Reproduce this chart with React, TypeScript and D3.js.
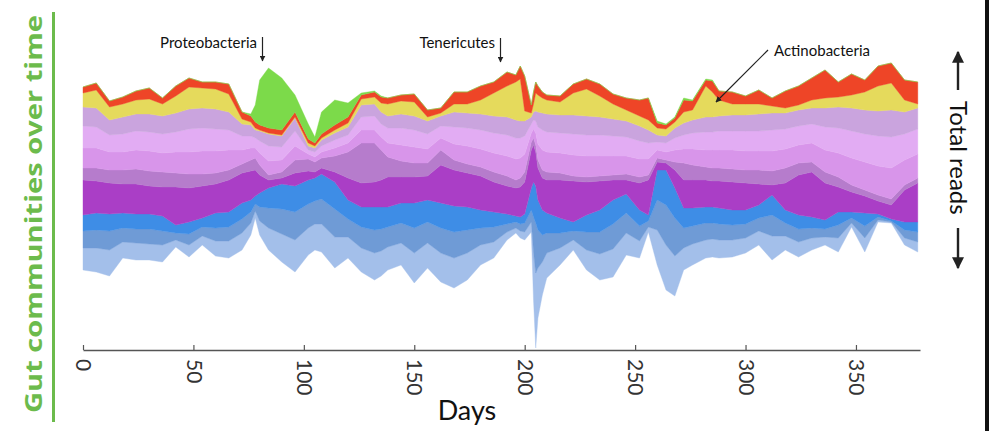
import React, { useEffect, useRef } from "react";
import * as d3 from "d3";

// sample days (extra points around the spikes)
const days = [0, 6, 12, 18, 24, 30, 36, 42, 48, 54, 60, 66, 72, 76, 78, 80, 84, 90, 96, 102, 105, 108, 114, 120, 126, 132, 135, 138, 144, 150, 156, 162, 168, 174, 180, 186, 192, 196, 198, 200, 203, 204, 205, 206, 208, 210, 216, 222, 228, 234, 240, 246, 252, 256, 260, 264, 268, 272, 276, 282, 285, 288, 294, 300, 306, 312, 318, 324, 330, 336, 342, 348, 354, 360, 366, 372, 378];

// lower edge of the stream (reads)
const baseline = [80, 78, 74, 92, 90, 90, 88, 103, 93, 105, 94, 92, 100, 115, 132, 115, 100, 88, 78, 95, 100, 98, 82, 92, 78, 70, 74, 80, 85, 67, 82, 68, 62, 70, 85, 92, 110, 117, 112, 110, 118, 50, 2, 32, 55, 72, 85, 100, 80, 70, 73, 95, 92, 118, 85, 60, 54, 80, 85, 92, 93, 92, 93, 97, 105, 90, 100, 93, 100, 105, 98, 123, 98, 128, 127, 105, 98];

// layers, bottom to top
const paleBlue = [22, 24, 26, 16, 17, 16, 17, 7, 12, 9, 15, 17, 17, 12, 7, 14, 22, 28, 32, 27, 26, 28, 31, 21, 24, 27, 25, 23, 22, 30, 25, 29, 30, 27, 20, 16, 8, 5, 7, 8, 10, 48, 75, 50, 33, 25, 17, 10, 20, 26, 28, 22, 17, 5, 35, 45, 40, 22, 21, 18, 18, 18, 17, 15, 14, 24, 14, 15, 12, 8, 14, 4, 14, 2, 1, 7, 10];
const steelBlue = [17, 18, 19, 14, 14, 15, 14, 7, 11, 9, 13, 14, 14, 11, 7, 14, 20, 25, 28, 24, 23, 25, 28, 18, 21, 23, 22, 20, 20, 25, 21, 25, 26, 23, 17, 15, 8, 6, 7, 9, 12, 35, 50, 38, 27, 20, 15, 9, 18, 22, 25, 20, 15, 6, 30, 40, 38, 20, 18, 17, 16, 16, 15, 14, 13, 21, 13, 13, 10, 8, 13, 5, 12, 3, 1, 8, 10];
const brightBlue = [16, 17, 17, 15, 15, 15, 15, 8, 12, 9, 15, 15, 16, 12, 8, 14, 20, 25, 26, 24, 23, 25, 27, 19, 20, 23, 22, 20, 20, 25, 22, 25, 26, 23, 18, 15, 10, 6, 7, 9, 22, 35, 37, 30, 25, 20, 15, 9, 17, 22, 24, 19, 16, 6, 30, 35, 30, 20, 18, 16, 16, 16, 15, 14, 13, 20, 13, 14, 11, 9, 13, 6, 13, 3, 2, 8, 10];
const magenta = [35, 32, 31, 29, 30, 28, 29, 38, 34, 32, 29, 32, 30, 29, 26, 18, 8, 6, 13, 9, 6, 6, 10, 22, 24, 25, 27, 30, 26, 26, 24, 38, 36, 34, 34, 30, 28, 28, 30, 32, 38, 37, 34, 32, 32, 33, 38, 41, 33, 29, 20, 14, 27, 35, 8, 7, 18, 28, 28, 27, 26, 27, 28, 27, 21, 10, 27, 40, 45, 37, 25, 20, 17, 13, 14, 32, 39];
const mauve = [12, 13, 13, 14, 15, 15, 15, 14, 14, 12, 11, 10, 9, 11, 12, 10, 5, 6, 13, 12, 10, 10, 16, 26, 40, 39, 30, 20, 16, 14, 13, 15, 10, 9, 9, 10, 10, 8, 9, 10, 8, 7, 7, 8, 8, 8, 7, 5, 5, 5, 5, 6, 6, 5, 4, 3, 8, 17, 15, 13, 13, 13, 13, 13, 14, 14, 15, 12, 10, 11, 10, 7, 6, 6, 6, 5, 5];
const orchid = [20, 20, 18, 18, 19, 20, 19, 21, 22, 23, 22, 20, 14, 12, 10, 12, 14, 12, 14, 5, 5, 6, 8, 9, 13, 13, 13, 14, 16, 16, 14, 12, 16, 18, 18, 19, 20, 21, 20, 18, 9, 9, 12, 16, 20, 20, 20, 21, 21, 20, 19, 18, 18, 16, 8, 8, 12, 14, 16, 17, 18, 18, 19, 19, 19, 20, 19, 18, 19, 22, 24, 27, 28, 29, 31, 25, 24];
const lilac = [22, 21, 17, 18, 19, 19, 19, 20, 23, 23, 22, 20, 14, 12, 10, 12, 15, 13, 15, 4, 5, 6, 8, 8, 13, 14, 13, 15, 17, 17, 15, 12, 17, 18, 19, 20, 21, 21, 20, 18, 9, 9, 12, 17, 20, 20, 20, 21, 21, 21, 20, 19, 18, 16, 8, 9, 12, 14, 16, 18, 18, 19, 19, 20, 20, 21, 20, 19, 19, 23, 25, 27, 28, 30, 31, 26, 25];
const lavender = [19, 19, 15, 17, 17, 18, 18, 19, 20, 20, 20, 18, 12, 11, 8, 10, 12, 11, 13, 4, 4, 6, 7, 8, 12, 12, 12, 12, 14, 14, 13, 10, 15, 15, 16, 17, 18, 18, 17, 15, 7, 8, 10, 15, 17, 18, 18, 19, 19, 18, 17, 16, 15, 13, 7, 7, 10, 12, 13, 15, 15, 15, 16, 16, 17, 17, 16, 16, 16, 19, 21, 23, 24, 25, 27, 22, 21];
const actinobacteria = [14, 18, 13, 13, 14, 15, 12, 17, 22, 20, 20, 18, 5, 3, 2, 1, 1, 1, 1, 3, 2, 2, 3, 4, 6, 7, 9, 12, 13, 14, 4, 3, 8, 9, 14, 23, 31, 38, 42, 10, 4, 8, 18, 17, 15, 14, 13, 22, 27, 21, 15, 11, 10, 10, 7, 7, 6, 11, 10, 31, 25, 16, 11, 11, 10, 7, 5, 5, 8, 10, 10, 13, 18, 25, 27, 12, 4];
const tenericutes = [6, 7, 6, 7, 9, 11, 6, 10, 9, 6, 7, 10, 7, 6, 6, 5, 5, 5, 5, 4, 3, 4, 5, 6, 4, 5, 6, 6, 6, 8, 7, 5, 12, 12, 14, 11, 14, 7, 13, 35, 8, 12, 11, 9, 6, 5, 6, 9, 10, 12, 10, 12, 16, 22, 5, 4, 4, 12, 9, 6, 11, 9, 12, 8, 14, 8, 17, 19, 22, 28, 15, 21, 12, 20, 20, 20, 22];
const proteobacteria = [0, 0, 0, 0, 0, 0, 0, 0, 0, 0, 0, 0, 0, 2, 17, 45, 60, 52, 17, 15, 6, 22, 25, 14, 2, 1, 1, 0, 0, 0, 0, 0, 0, 0, 0, 0, 0, 0, 0, 0, 0, 0, 0, 0, 0, 0, 0, 0, 0, 0, 0, 0, 0, 0, 2, 1, 1, 2, 1, 1, 1, 0, 0, 0, 0, 0, 0, 0, 0, 0, 0, 0, 0, 0, 0, 0, 0];

const layerNames = ["paleBlue", "steelBlue", "brightBlue", "magenta", "mauve", "orchid", "lilac", "lavender", "actinobacteria", "tenericutes", "proteobacteria"];
const layerValues = [paleBlue, steelBlue, brightBlue, magenta, mauve, orchid, lilac, lavender, actinobacteria, tenericutes, proteobacteria];
const layerColors = ["#a3bfea", "#6f9bd6", "#3e8de6", "#aa3ec6", "#b67ccc", "#d895ea", "#e2acf3", "#caa4de", "#e5da5c", "#ee4527", "#7cda4a"];

const tickDays = [0, 50, 100, 150, 200, 250, 300, 350];

const App = () => {
  const svgRef = useRef(null);

  useEffect(() => {
    const w = 989;
    const h = 431;
    const svg = d3.select(svgRef.current).attr("width", w).attr("height", h);
    svg.selectAll("*").remove();

    const xScale = d3.scaleLinear().domain([0, 379]).range([83, 920]);
    const yScale = d3.scaleLinear().domain([0, 300]).range([350, 50]);

    const rows = days.map((d, j) => {
      const row = { day: d };
      layerNames.forEach((k, i) => (row[k] = layerValues[i][j]));
      return row;
    });

    // stack on top of the varying lower edge
    const offsetBaseline = (series, order) => {
      d3.stackOffsetNone(series, order);
      for (let i = 0; i < series.length; i++) {
        for (let j = 0; j < series[i].length; j++) {
          series[i][j][0] += baseline[j];
          series[i][j][1] += baseline[j];
        }
      }
    };

    const stacked = d3.stack().keys(layerNames).offset(offsetBaseline)(rows);

    const area = d3
      .area()
      .x((d) => xScale(d.data.day))
      .y0((d) => yScale(d[0]))
      .y1((d) => yScale(d[1]))
      .curve(d3.curveLinear);

    svg
      .append("g")
      .selectAll("path")
      .data(stacked)
      .join("path")
      .attr("d", area)
      .attr("fill", (d, i) => layerColors[i])
      .attr("stroke", (d, i) => layerColors[i])
      .attr("stroke-width", 0.4);

    // x axis
    const xAxis = d3.axisBottom(xScale).tickValues(tickDays).tickSizeInner(-5).tickSizeOuter(0);
    const gx = svg.append("g").attr("transform", "translate(0,350)").call(xAxis);
    gx.select(".domain").attr("stroke", "#555").attr("stroke-width", 1.5);
    gx.selectAll(".tick line").attr("stroke", "#555").attr("stroke-width", 1.2);
    gx.selectAll(".tick text")
      .attr("transform", "rotate(90)")
      .attr("x", 9)
      .attr("y", 0)
      .attr("dy", "0.35em")
      .style("text-anchor", "start")
      .style("font-family", "Lato, 'Open Sans', sans-serif")
      .style("font-size", "21px")
      .attr("fill", "#333");

    svg
      .append("text")
      .attr("x", 467)
      .attr("y", 420)
      .attr("text-anchor", "middle")
      .style("font-family", "Lato, sans-serif")
      .style("font-size", "27px")
      .attr("fill", "#111")
      .text("Days");

    // title on the left
    svg
      .append("text")
      .attr("transform", "translate(42,413) rotate(-90)")
      .attr("textLength", 398)
      .attr("lengthAdjust", "spacingAndGlyphs")
      .style("font-family", "'Open Sans', Lato, sans-serif")
      .style("font-weight", "bold")
      .style("font-size", "23px")
      .attr("fill", "#6cbb4c")
      .text("Gut communities over time");
    svg.append("line").attr("x1", 53.5).attr("x2", 53.5).attr("y1", 12).attr("y2", 422).attr("stroke", "#6cbb4c").attr("stroke-width", 3);

    // right border
    svg.append("rect").attr("x", 985).attr("y", 0).attr("width", 4).attr("height", h).attr("fill", "#111");

    // arrows
    const defs = svg.append("defs");
    defs
      .append("marker")
      .attr("id", "head")
      .attr("viewBox", "0 0 10 10")
      .attr("refX", 9)
      .attr("refY", 5)
      .attr("markerWidth", 5)
      .attr("markerHeight", 5)
      .attr("orient", "auto")
      .append("path")
      .attr("d", "M0,0 L10,5 L0,10 z")
      .attr("fill", "#222");

    const note = (label, tx, ty, anchor) =>
      svg
        .append("text")
        .attr("x", tx)
        .attr("y", ty)
        .attr("text-anchor", anchor)
        .style("font-family", "Lato, sans-serif")
        .style("font-size", "15px")
        .attr("fill", "#111")
        .text(label);
    const arrow = (x1, y1, x2, y2, sw) =>
      svg
        .append("line")
        .attr("x1", x1)
        .attr("y1", y1)
        .attr("x2", x2)
        .attr("y2", y2)
        .attr("stroke", "#222")
        .attr("stroke-width", sw)
        .attr("marker-end", "url(#head)");

    note("Proteobacteria", 257, 48, "end");
    arrow(262.5, 37, 262.5, 61, 1.2);
    note("Tenericutes", 495, 48, "end");
    arrow(500.5, 38, 500.5, 62, 1.2);
    note("Actinobacteria", 774, 56, "start");
    arrow(768, 50, 716, 102, 1.2);

    // total reads
    svg
      .append("text")
      .attr("transform", "translate(958,101) rotate(90)")
      .attr("dy", "0.35em")
      .style("font-family", "Lato, sans-serif")
      .style("font-size", "24px")
      .attr("fill", "#111")
      .text("Total reads");
    arrow(958, 90, 958, 52, 2.4);
    arrow(958, 228, 958, 268, 2.4);
  }, []);

  return <svg ref={svgRef} style={{ position: "absolute", left: 0, top: 0, background: "#fff" }}></svg>;
};

export default App;
